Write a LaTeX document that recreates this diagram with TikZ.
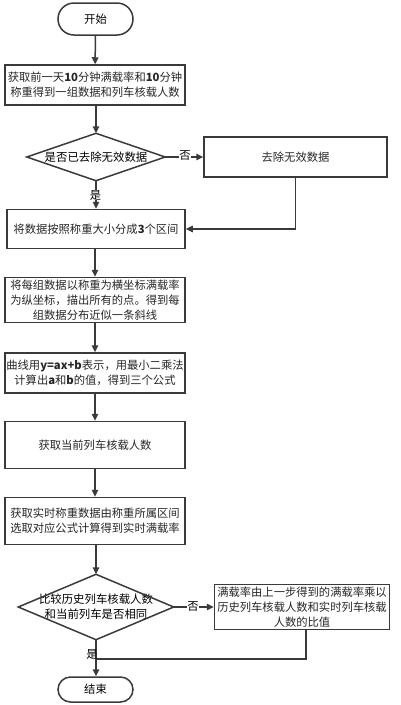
\documentclass[tikz,border=0pt]{standalone}
\usepackage{fontspec}
\setmainfont{Noto Sans CJK SC}
\usetikzlibrary{arrows.meta}
\definecolor{ln}{HTML}{3A3A3A}
\tikzset{
  box/.style={draw=ln, line width=1.5pt, minimum width=180pt, inner sep=0.5pt, align=center, font=\fontsize{11.3}{15}\selectfont, text=black!85},
  term/.style={draw=ln, line width=1.5pt, inner sep=0pt, font=\fontsize{11.3}{15}\selectfont},
  dtext/.style={inner sep=0pt, align=center, font=\fontsize{11.4}{15}\selectfont},
  flow/.style={draw=ln, line width=1.5pt, -{Triangle[length=7pt,width=6.5pt]}},
  plain/.style={draw=ln, line width=1.5pt},
  lab/.style={fill=white, inner sep=0.5pt, font=\fontsize{11.3}{13}\selectfont}
}
\begin{document}
\begin{tikzpicture}[x=1pt,y=-1pt]
\useasboundingbox (0,0) rectangle (400,705);
\node[term, minimum width=75pt, minimum height=32pt, rounded corners=16pt] (start) at (95.5,19) {开始};
\node[box, minimum height=40pt] (b1) at (95,85) {获取前一天\textbf{10}分钟满载率和\textbf{10}分钟\\称重得到一组数据和列车核载人数};
\node[dtext, minimum width=138pt, minimum height=47pt] (d1) at (96,157) {是否已去除无效数据};
\draw[plain] (d1.north) -- (d1.east) -- (d1.south) -- (d1.west) -- cycle;
\node[box, minimum width=183pt, minimum height=40pt] (rm) at (295.5,157) {去除无效数据};
\node[box, minimum width=178pt, minimum height=39pt] (b2) at (96,229) {将数据按照称重大小分成\textbf{3}个区间};
\node[box, minimum height=45pt] (b3) at (95,300) {将每组数据以称重为横坐标满载率\\为纵坐标，描出所有的点。得到每\\组数据分布近似一条斜线};
\node[box, minimum height=40pt] (b4) at (95,373) {曲线用\textbf{y=ax+b}表示，用最小二乘法\\计算出\textbf{a}和\textbf{b}的值，得到三个公式};
\node[box, minimum height=47pt] (b5) at (95,445) {获取当前列车核载人数};
\node[box, minimum height=47pt] (b6) at (95,521) {获取实时称重数据由称重所属区间\\选取对应公式计算得到实时满载率};
\node[dtext, minimum width=155pt, minimum height=65pt] (d2) at (96,607) {比较历史列车核载人数\\和当前列车是否相同};
\draw[plain] (d2.north) -- (d2.east) -- (d2.south) -- (d2.west) -- cycle;
\node[box, minimum width=175pt, minimum height=45pt] (b7) at (302,607) {满载率由上一步得到的满载率乘以\\历史列车核载人数和实时列车核载\\人数的比值};
\node[term, minimum width=75pt, minimum height=25pt, rounded corners=12.5pt] (end) at (95.5,689.5) {结束};
\coordinate (j7) at (96,659);

\draw[flow] (start) -- (b1);
\draw[flow] (b1.south -| d1.north) -- (d1.north);
\draw[flow] (d1.east) -- (rm.west);
\draw[flow] (d1.south) -- (b2.north);
\draw[flow] (rm.south) |- (b2.east);
\draw[flow] (b2.south -| b3.north) -- (b3.north);
\draw[flow] (b3) -- (b4);
\draw[flow] (b4) -- (b5);
\draw[flow] (b5) -- (b6);
\draw[flow] (b6.south -| d2.north) -- (d2.north);
\draw[flow] (d2.east) -- (b7.west);
\draw[plain] ([xshift=4pt]b7.south) |- (j7);
\draw[flow] (d2.south) -- (end.north -| d2.south);

\node[lab] at (185,156) {否};
\node[lab] at (95.5,195) {是};
\node[lab] at (193,607) {否};
\node[lab, fill=none] at (92,654) {是};
\end{tikzpicture}
\end{document}
